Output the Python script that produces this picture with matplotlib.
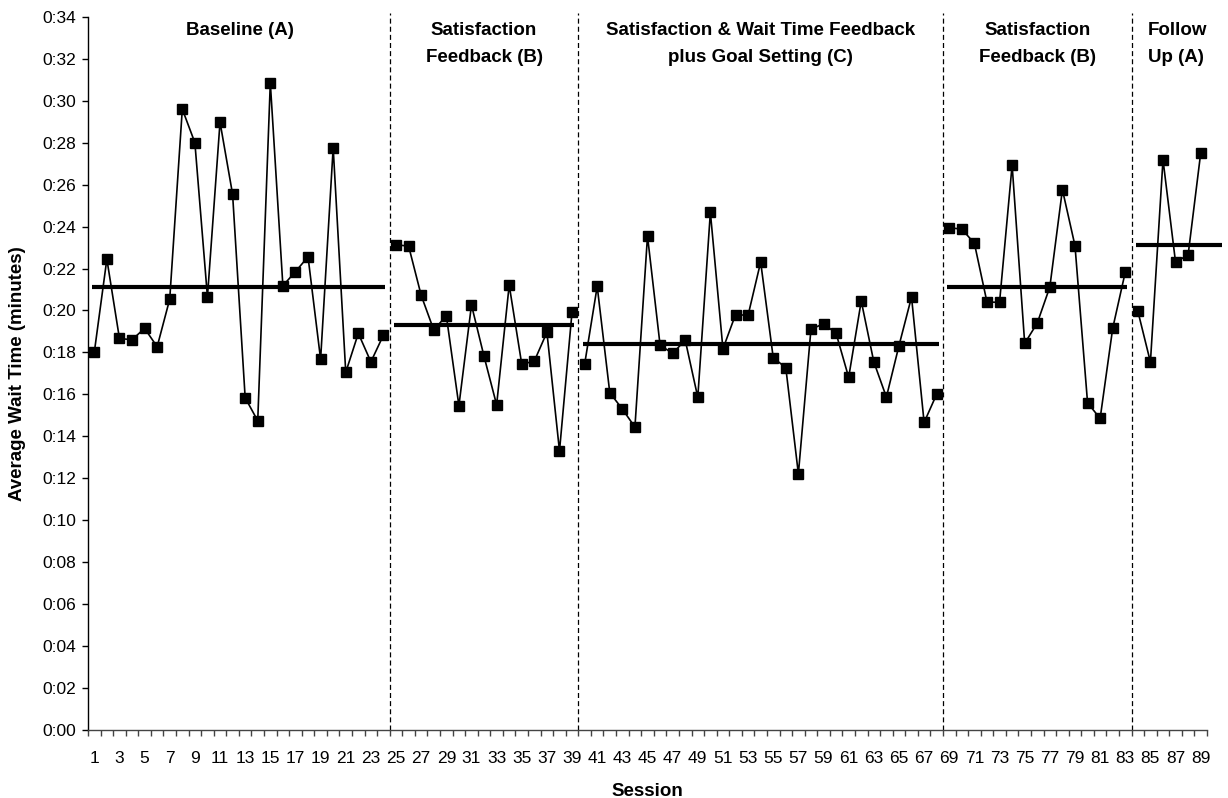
import matplotlib
matplotlib.use("Agg")
import matplotlib.pyplot as plt
import numpy as np

plt.rcParams['font.family'] = ['Liberation Sans', 'DejaVu Sans']

# ---- data (wait time in seconds, shown as 0:ss) ----
phase_sessions = [
    list(range(1, 25)),
    list(range(25, 40)),
    list(range(40, 69)),
    list(range(69, 84)),
    list(range(84, 90)),
]
phase_values = [
    [18.0, 22.45, 18.67, 18.6, 19.15, 18.27, 20.54, 29.6, 28.0, 20.65, 28.98, 25.54,
     15.84, 14.74, 30.86, 21.18, 21.85, 22.56, 17.67, 27.76, 17.05, 18.91, 17.55, 18.83],
    [23.13, 23.07, 20.72, 19.07, 19.75, 15.46, 20.26, 17.81, 15.5, 21.21, 17.43, 17.59,
     18.96, 13.3, 19.94],
    [17.44, 21.15, 16.08, 15.3, 14.44, 23.55, 18.35, 17.95, 18.59, 15.86, 24.68, 18.17,
     19.8, 19.77, 22.31, 17.75, 17.27, 12.21, 19.1, 19.37, 18.91, 16.81, 20.45, 17.55,
     15.87, 18.32, 20.64, 14.66, 16.01],
    [23.94, 23.88, 23.2, 20.4, 20.39, 26.93, 18.43, 19.4, 21.12, 25.76, 23.09, 15.6,
     14.85, 19.15, 21.83],
    [19.97, 17.54, 27.19, 22.29, 22.66, 27.51],
]
phase_means = [21.1, 19.29, 18.38, 21.1, 23.1]
phase_titles = [
    ["Baseline (A)"],
    ["Satisfaction", "Feedback (B)"],
    ["Satisfaction & Wait Time Feedback", "plus Goal Setting (C)"],
    ["Satisfaction", "Feedback (B)"],
    ["Follow", "Up (A)"],
]
title_x = [12.6, 32.0, 54.0, 76.0, 84.8]
title_ha = ['center', 'center', 'center', 'center', 'left']
phase_breaks = [24.5, 39.5, 68.5, 83.5]
y_ticks = list(range(0, 35, 2))
y_tick_labels = ["0:%02d" % v for v in y_ticks]
x_label_sessions = list(range(1, 90, 2))

# ---- figure ----
fig = plt.figure(figsize=(12.28, 7.98), dpi=100)
ax = fig.add_axes([88/1228, 1 - 730/798, (1207-88)/1228, (730-16.8)/798])

for s, v, m, in zip(phase_sessions, phase_values, phase_means):
    ax.plot(s, v, color='black', lw=1.2, marker='s', ms=7.2, mfc='black', mec='black',
            zorder=3, clip_on=False)
    x0 = s[0] - 0.15
    x1 = s[-1] + 0.15
    if s[-1] == 89:
        x1 = 90.7
    ax.plot([x0, x1], [m, m], color='black', lw=3.0, solid_capstyle='butt',
            zorder=2, clip_on=False)

for b in phase_breaks:
    ax.plot([b, b], [0, 34.2], color='black', lw=0.9, ls=(0, (4, 2.5)),
            zorder=1, clip_on=False)

line_y = [33.37, 32.08]
for lines, x, ha in zip(phase_titles, title_x, title_ha):
    for i, t in enumerate(lines):
        ax.text(x, line_y[i], t, ha=ha, va='center', fontsize=13.5, fontweight='bold',
                clip_on=False)

ax.set_xlim(0.5, 89.5)
ax.set_ylim(0, 34)
ax.set_yticks(y_ticks)
ax.set_yticklabels(y_tick_labels, fontsize=12.5)
ax.tick_params(axis='y', direction='out', length=4.5, width=1, pad=4)

ax.set_xticks(np.arange(0.5, 90.0, 1.0))
ax.set_xticklabels([])
ax.tick_params(axis='x', which='major', direction='out', length=4, width=1)
ax.set_xticks(x_label_sessions, minor=True)
ax.set_xticklabels([str(v) for v in x_label_sessions], minor=True, fontsize=12.5)
ax.tick_params(axis='x', which='minor', length=0, pad=15)

for sp in ['top', 'right']:
    ax.spines[sp].set_visible(False)
ax.spines['left'].set_linewidth(1)
ax.spines['bottom'].set_linewidth(1)
ax.spines['bottom'].set_color('#444444')
ax.tick_params(axis='x', colors='#444444', labelcolor='black', which='both')

ax.set_xlabel("Session", fontsize=13.5, fontweight='bold', labelpad=12)
ax.set_ylabel("Average Wait Time (minutes)", fontsize=13.5, fontweight='bold', labelpad=12)

fig.savefig("out.png", dpi=100)
